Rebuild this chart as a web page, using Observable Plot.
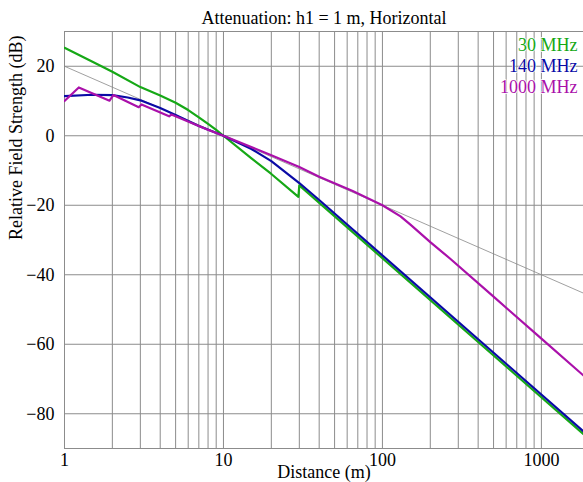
<!DOCTYPE html>
<html>
<head>
<meta charset="utf-8">
<script src="https://cdn.jsdelivr.net/npm/d3@7"></script>
<script src="https://cdn.jsdelivr.net/npm/@observablehq/plot@0.6"></script>
<style>
  html, body { margin: 0; padding: 0; background: #fff; }
</style>
</head>
<body>
<div id="chart"></div>
<script>
// Series: 30 MHz
const dist30 = [1, 1.5, 2, 3, 4, 5, 6, 7, 8, 9, 10, 15, 20, 29.6, 30, 1840];
const val30  = [25.3, 21.3, 18.4, 14.0, 11.6, 9.5, 7.4, 5.3, 3.4, 1.7, 0, -6.5, -11.0, -17.6, -14.3, -85.9];
// Series: 140 MHz
const dist140 = [1, 1.5, 2, 2.5, 3, 4, 5, 7, 10, 15, 20, 30, 40, 1840];
const val140  = [11.4, 11.8, 11.7, 11.0, 10.2, 8.0, 6.0, 2.8, 0, -3.8, -7.3, -13.6, -18.5, -85.1];
// Series: 1000 MHz
const dist1000 = [1, 1.23, 1.92, 2.03, 2.93, 3.05, 4.55, 4.7, 7.9, 10, 20, 30, 40, 65, 100, 130, 150, 200, 267, 500, 1000, 1840];
const val1000  = [10.0, 13.9, 10.1, 11.7, 8.2, 9.0, 5.6, 6.1, 1.8, 0, -5.6, -9.0, -11.8, -15.9, -20, -23.2, -25.6, -30.6, -35.4, -46.3, -58.4, -69.0];
// Thin reference line
const distRef = [1, 1840];
const valRef  = [20, -45.3];

const seriesNames  = ["30 MHz", "140 MHz", "1000 MHz"];
const seriesColors = ["#16a816", "#0a0aa6", "#aa10aa"];

const xTicks = [1, 10, 100, 1000];
const yTicks = [20, 0, -20, -40, -60, -80];
const xGrid = [1,2,3,4,5,6,7,8,9,10,20,30,40,50,60,70,80,90,100,200,300,400,500,600,700,800,900,1000];
const yGrid = [30, 20, 0, -20, -40, -60, -80, -90];

const title = "Attenuation: h1 = 1 m, Horizontal";
const xLabel = "Distance (m)";
const yLabel = "Relative Field Strength (dB)";

const toRows = (ds, vs, s) => ds.map((d, i) => ({d, v: vs[i], s}));
const rows = [
  ...toRows(dist30, val30, seriesNames[0]),
  ...toRows(dist140, val140, seriesNames[1]),
  ...toRows(dist1000, val1000, seriesNames[2])
];
const refRows = toRows(distRef, valRef, "ref");

const gridColor = "#8c8c8c";
const fmt = d => d < 0 ? "\u2212" + Math.abs(d) : String(d);

const legendMarks = seriesNames.map((s, i) =>
  Plot.text([s], {
    text: d => d, fill: seriesColors[i], frameAnchor: "top-right", textAnchor: "end", lineAnchor: "middle",
    dx: -6, dy: 13.7 + i * 20.8, fontSize: 18,
    stroke: "white", strokeWidth: 1.5
  })
);

const chart = Plot.plot({
  width: 583,
  height: 482,
  marginTop: 31,
  marginBottom: 34,
  marginLeft: 64,
  marginRight: 0,
  style: {fontFamily: "'Liberation Serif', 'Times New Roman', serif", fontSize: "18px", background: "#fff"},
  x: {type: "log", domain: [1, 1840]},
  y: {domain: [-90, 30]},
  color: {domain: seriesNames, range: seriesColors},
  marks: [
    Plot.ruleX(xGrid, {stroke: gridColor, strokeWidth: 1}),
    Plot.ruleY(yGrid, {stroke: gridColor, strokeWidth: 1}),
    Plot.axisX(xTicks, {tickSize: 0, tickPadding: 5, tickFormat: d => String(d), fontSize: 18, label: null}),
    Plot.axisY(yTicks, {tickSize: 0, tickPadding: 10, tickFormat: fmt, fontSize: 18, label: null}),
    Plot.line(refRows, {x: "d", y: "v", stroke: "#888", strokeWidth: 0.8, clip: true}),
    Plot.line(rows, {x: "d", y: "v", z: "s", stroke: "s", strokeWidth: 2.2, clip: true}),
    ...legendMarks,
    Plot.text([title], {frameAnchor: "top", lineAnchor: "middle", dy: -13, fontSize: 18, fill: "black"}),
    Plot.text([xLabel], {frameAnchor: "bottom", lineAnchor: "middle", dy: 24, fontSize: 18, fill: "black"}),
    Plot.text([yLabel], {frameAnchor: "left", lineAnchor: "middle", dx: -48.5, rotate: -90, fontSize: 18, fill: "black"})
  ]
});

document.getElementById("chart").appendChild(chart);
</script>
</body>
</html>
